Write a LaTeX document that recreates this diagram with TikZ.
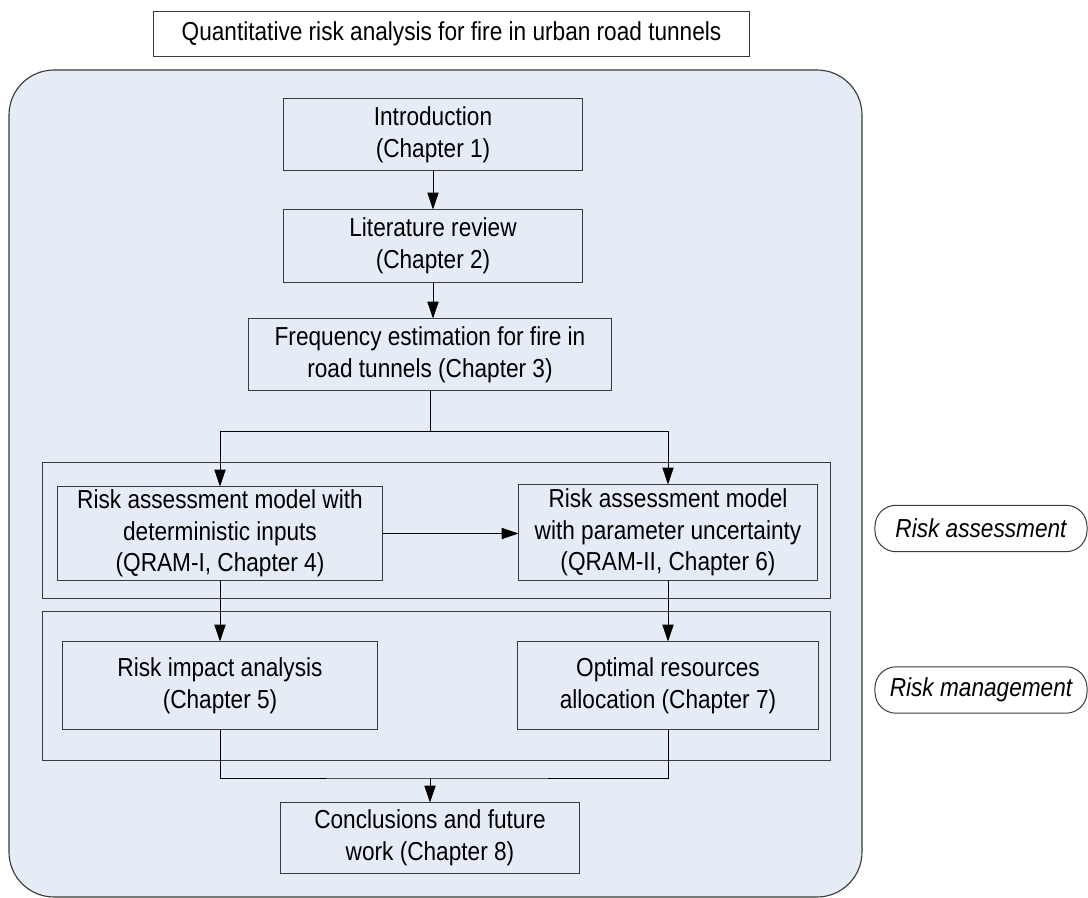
\documentclass[tikz,border=0pt]{standalone}
\usepackage{fontspec}
\setmainfont{Liberation Sans}[FakeStretch=0.87]
\usetikzlibrary{arrows.meta}
\usepackage{xcolor}
\definecolor{panelblue}{HTML}{E5ECF6}
\definecolor{edge}{HTML}{3A3A3A}

\begin{document}
\begin{tikzpicture}[x=0.025cm, y=-0.025cm,
  chap/.style={draw=edge, line width=0.7pt, fill=panelblue, align=center,
               inner sep=0pt, font=\fontsize{18.5}{22.5}\selectfont},
  group/.style={draw=edge, line width=0.7pt},
  side/.style={draw=edge, line width=0.7pt, fill=white, rounded corners=15pt,
               minimum width=5.3cm, minimum height=1.16cm, inner sep=0pt,
               font=\fontsize{18.5}{22.5}\selectfont\itshape},
  arr/.style={-{Triangle[length=12pt, width=8pt]}, line width=0.6pt}
]
  \useasboundingbox (0,0) rectangle (1088,898);

  % Title
  \node[chap, fill=white, minimum width=14.875cm, minimum height=1.1cm] (title)
    at (451.5,34) {Quantitative risk analysis for fire in urban road tunnels};

  % Outer panel
  \draw[draw=edge, line width=0.8pt, fill=panelblue, rounded corners=32pt]
    (9,70) rectangle (862,897);

  % Groups
  \draw[group] (42,462) rectangle (830,598);
  \draw[group] (42,611) rectangle (830,760);

  % Chapters
  \node[chap, minimum width=7.45cm, minimum height=1.775cm] (intro)
    at (433,134.5) {Introduction\\(Chapter 1)};
  \node[chap, minimum width=7.45cm, minimum height=1.8cm] (litrev)
    at (433,246) {Literature review\\(Chapter 2)};
  \node[chap, minimum width=9.05cm, minimum height=1.775cm] (freq)
    at (430,354.5) {Frequency estimation for fire in\\road tunnels (Chapter 3)};
  \node[chap, minimum width=8.1cm, minimum height=2.325cm] (qramone)
    at (220,533.5) {Risk assessment model with\\deterministic inputs\\(QRAM-I, Chapter 4)};
  \node[chap, minimum width=7.45cm, minimum height=2.375cm] (qramtwo)
    at (668,532.5) {Risk assessment model\\with parameter uncertainty\\(QRAM-II, Chapter 6)};
  \node[chap, minimum width=7.85cm, minimum height=2.175cm] (impact)
    at (220,685.5) {Risk impact analysis\\(Chapter 5)};
  \node[chap, minimum width=7.5cm, minimum height=2.175cm] (optim)
    at (668,685.5) {Optimal resources\\allocation (Chapter 7)};
  \node[chap, minimum width=7.45cm, minimum height=1.75cm] (concl)
    at (430,838) {Conclusions and future\\work (Chapter 8)};

  % Side labels
  \node[side] (assess) at (981,528.5) {Risk assessment};
  \node[side] (manage) at (981,690) {Risk management};

  % Connectors
  \coordinate (split) at (430,431);
  \coordinate (merge) at (430,778);
  \draw[arr] (intro) -- (litrev);
  \draw[arr] (litrev.south) -- (litrev.south |- freq.north);
  \draw[line width=0.6pt] (freq.south) -- (split);
  \draw[arr] (split) -| (qramone.north);
  \draw[arr] (split) -| (qramtwo.north);
  \draw[arr] (qramone.east) -- (qramone.east -| qramtwo.west);
  \draw[arr] (qramone) -- (impact);
  \draw[arr] (qramtwo) -- (optim);
  \draw[line width=0.6pt] (impact.south) |- (merge) -| (optim.south);
  \draw[arr] (merge) -- (concl);
\end{tikzpicture}
\end{document}
